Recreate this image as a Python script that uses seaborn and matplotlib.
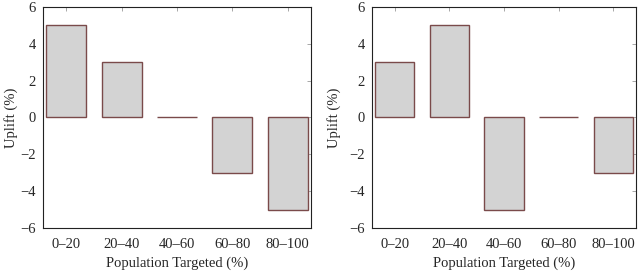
import pandas as pd
import matplotlib
matplotlib.use('Agg')
import matplotlib.pyplot as plt
import seaborn as sns

#### Data
groups = ['0–20', '20–40', '40–60', '60–80', '80–100']
uplift_left = [5, 3, 0, -3, -5]
uplift_right = [3, 5, -5, 0, -3]

sns.set_style('white')
plt.rcParams['font.family'] = ['Liberation Serif', 'DejaVu Serif']
plt.rcParams['axes.unicode_minus'] = True

fig = plt.figure(figsize=(6.4, 2.71), dpi=100)
ax1 = fig.add_axes([0.067, 0.159, 0.419, 0.815])
ax2 = fig.add_axes([0.581, 0.159, 0.413, 0.815])

for ax, vals, lp in [(ax1, uplift_left, 2), (ax2, uplift_right, 6)]:
    df = pd.DataFrame({'group': groups, 'uplift': vals})
    sns.barplot(data=df, x='group', y='uplift', ax=ax, color='#d3d3d3',
                saturation=1, width=0.72, edgecolor='#7a4a4a', linewidth=1.0)
    ax.set_xlim(-0.42, 4.42)
    ax.set_ylim(-6, 6)
    ax.set_yticks([-6, -4, -2, 0, 2, 4, 6])
    ax.set_yticklabels(['−6', '−4', '−2', '0', '2', '4', '6'])
    ax.set_xlabel('Population Targeted (%)', fontsize=10.5, labelpad=4)
    ax.set_ylabel('Uplift (%)', fontsize=10.5, labelpad=lp)
    ax.tick_params(direction='in', top=True, right=True, length=3,
                   labelsize=10.5, color='#999999', width=0.6)
    ax.tick_params(axis='x', pad=7)
    ax.tick_params(axis='y', pad=5)
    for s in ax.spines.values():
        s.set_color('#222222')
        s.set_linewidth(0.8)

fig.savefig('out.png', dpi=100)
